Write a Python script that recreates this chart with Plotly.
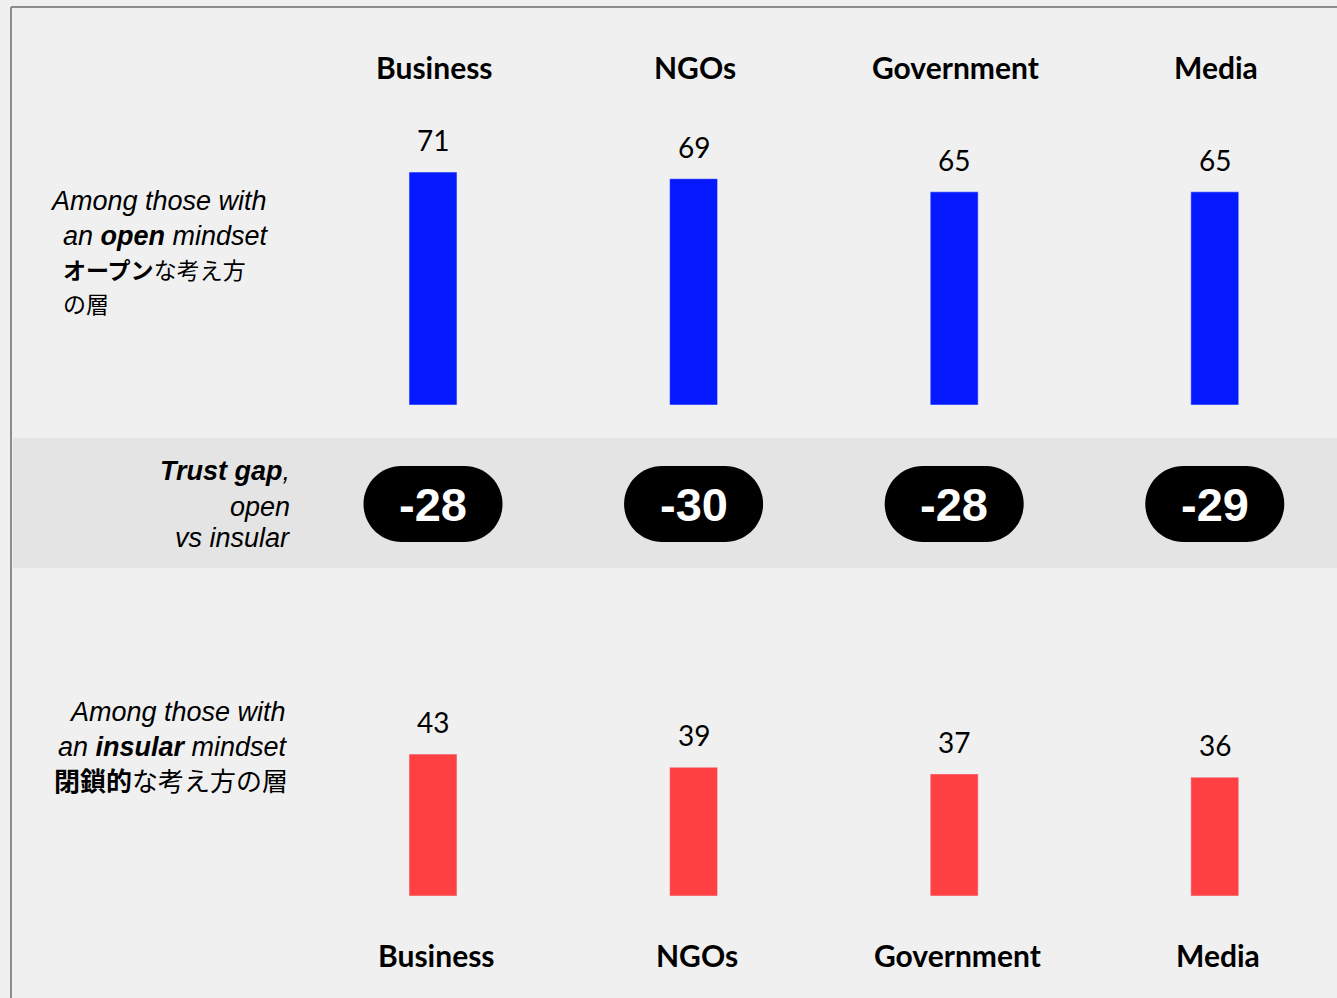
import plotly.graph_objects as go

categories = ["Business", "NGOs", "Government", "Media"]
open_values = [71, 69, 65, 65]
insular_values = [43, 39, 37, 36]
gap_values = [b - a for a, b in zip(open_values, insular_values)]

W, H = 1337, 998
BLUE = "#0419ff"
RED = "#ff4043"
BG = "#f0f0f0"
BAND = "#e4e4e4"

def py(px):
    return (H - px) / H

def pxx(px):
    return px / W

idx = list(range(len(categories)))

fig = go.Figure()
fig.add_trace(go.Bar(x=idx, y=open_values, marker_color=BLUE, width=0.184,
                     xaxis="x", yaxis="y", hoverinfo="skip"))
fig.add_trace(go.Bar(x=idx, y=insular_values, marker_color=RED, width=0.184,
                     xaxis="x2", yaxis="y2", hoverinfo="skip"))

xr = [-0.5, 3.469]
xdom = [302.7 / W, 1.0]
fig.update_layout(
    width=W, height=H, margin=dict(l=0, r=0, t=0, b=0),
    paper_bgcolor=BG, plot_bgcolor="rgba(0,0,0,0)", showlegend=False,
    xaxis=dict(domain=xdom, range=xr, visible=False, fixedrange=True),
    xaxis2=dict(domain=xdom, range=xr, visible=False, anchor="y2", fixedrange=True),
    yaxis=dict(domain=[py(405), py(405 - 328)], range=[0, 100], visible=False, fixedrange=True),
    yaxis2=dict(domain=[py(896), py(896 - 330)], range=[0, 100], visible=False, anchor="x2", fixedrange=True),
)

shapes = []
# band
shapes.append(dict(type="rect", xref="paper", yref="paper", x0=pxx(13), x1=1.0,
                   y0=py(568), y1=py(438), fillcolor=BAND, line=dict(width=0), layer="below"))
# borders
shapes.append(dict(type="line", xref="paper", yref="paper", x0=pxx(11), x1=1.0,
                   y0=py(7), y1=py(7), line=dict(color="#8c8c8c", width=2)))
shapes.append(dict(type="line", xref="paper", yref="paper", x0=pxx(11), x1=pxx(11),
                   y0=py(7), y1=0, line=dict(color="#8c8c8c", width=2)))

# pills
hw, r = 69.5, 38.0
s = hw - r
k = 0.5523 * r
pill = (f"M {-s},{-r} L {s},{-r} C {s+k},{-r} {hw},{-k} {hw},0 "
        f"C {hw},{k} {s+k},{r} {s},{r} L {-s},{r} "
        f"C {-s-k},{r} {-hw},{k} {-hw},0 C {-hw},{-k} {-s-k},{-r} {-s},{-r} Z")
pill_y = py(504)
for i in idx:
    shapes.append(dict(type="path", xref="x", yref="paper", xsizemode="pixel",
                       ysizemode="pixel", xanchor=i, yanchor=pill_y, path=pill,
                       fillcolor="black", line=dict(width=0)))
fig.update_layout(shapes=shapes)

ann = []
lab_font = dict(family="Lato", size=30, color="black")
val_font = dict(family="Lato", size=28, color="black")
for i, c in enumerate(categories):
    ann.append(dict(x=i, y=py(67), xref="x", yref="paper", text=f"<b>{c}</b>",
                    showarrow=False, font=lab_font, xshift=1, yanchor="middle"))
    ann.append(dict(x=i, y=py(955), xref="x", yref="paper", text=f"<b>{c}</b>",
                    showarrow=False, font=lab_font, xshift=3, yanchor="middle"))
    ann.append(dict(x=i, y=open_values[i], xref="x", yref="y", text=str(open_values[i]),
                    showarrow=False, font=val_font, yshift=32, yanchor="middle"))
    ann.append(dict(x=i, y=insular_values[i], xref="x2", yref="y2", text=str(insular_values[i]),
                    showarrow=False, font=val_font, yshift=32, yanchor="middle"))
    ann.append(dict(x=i, y=pill_y, xref="x", yref="paper", text=f"<b>{gap_values[i]}</b>",
                    showarrow=False, font=dict(family="Liberation Sans", size=47, color="white"),
                    yanchor="middle"))

lf = dict(family="Liberation Sans", size=27, color="black")
jf = dict(family="Noto Sans CJK JP", size=23, color="black")
jf2 = dict(family="Noto Sans CJK JP", size=26, color="black")

def txt(text, xpx, ypx, anchor, font):
    ann.append(dict(x=pxx(xpx), y=py(ypx), xref="paper", yref="paper", text=text,
                    showarrow=False, xanchor=anchor, yanchor="middle", font=font))

txt("<i>Among those with</i>", 48, 201, "left", lf)
txt("<i>an <b>open</b> mindset</i>", 61, 236, "left", lf)
txt("<b>オープン</b>な考え方", 61, 269, "left", jf)
txt("の層", 61, 303, "left", jf)

txt("<i><b>Trust gap</b>,</i>", 292, 471, "right", lf)
txt("<i>open</i>", 292, 507, "right", lf)
txt("<i>vs insular</i>", 292, 538, "right", lf)

txt("<i>Among those with</i>", 288, 712, "right", lf)
txt("<i>an <b>insular</b> mindset</i>", 290, 747, "right", lf)
txt("<b>閉鎖的</b>な考え方の層", 290, 779, "right", jf2)

fig.update_layout(annotations=ann)
fig.write_html("out.html")
